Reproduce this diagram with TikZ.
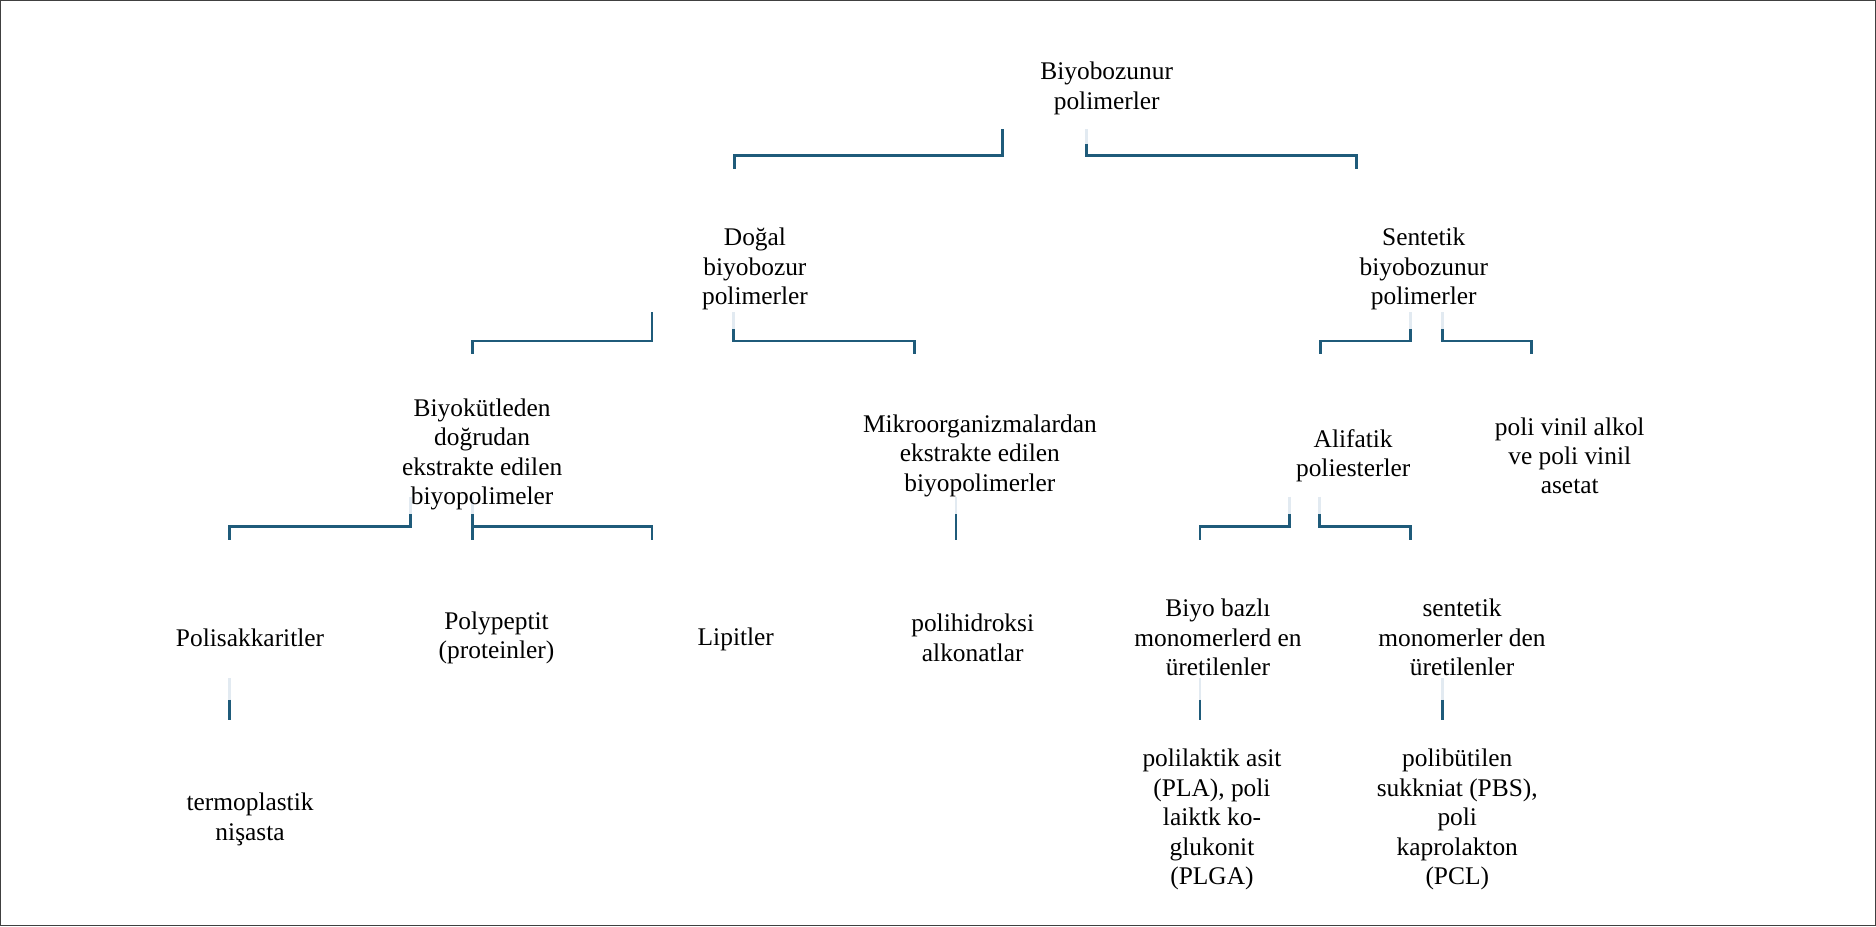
\documentclass[tikz,border=0pt]{standalone}
\usepackage{fontspec}
\setmainfont{Liberation Serif}
\usetikzlibrary{calc}
\definecolor{linkblue}{HTML}{1F5B7A}
\definecolor{linkfaint}{HTML}{E2EAF1}
\tikzset{
	lbl/.style={align=center, inner sep=0pt, font=\fontsize{15.1}{17.5}\selectfont},
	link/.style={line width=0.6mm, color=linkblue},
	faint/.style={line width=0.6mm, color=linkfaint}
}

\begin{document}
\begin{tikzpicture}[x=0.25mm, y=-0.25mm]
	\useasboundingbox (0,0) rectangle (1568,774);
	\draw[black!75, line width=0.3mm] (0.6,0.6) rectangle (1567.4,773.4);
	
	\coordinate (rootL) at (838,108); \coordinate (rootR) at (908,108);
	\coordinate (dogalL) at (545,261); \coordinate (dogalR) at (613,261);
	\coordinate (sentL) at (1179,261); \coordinate (sentR) at (1206,261);
	\coordinate (biyokL) at (343,415); \coordinate (biyokR) at (395,415);
	\coordinate (mikroB) at (799,415);
	\coordinate (alifL) at (1078,415); \coordinate (alifR) at (1103,415);
	\coordinate (polisB) at (192,567);
	\coordinate (biyobB) at (1003,567);
	\coordinate (sentmB) at (1206,567);
	
	\coordinate (dogalT) at (614,141); \coordinate (sentT) at (1134,141);
	\coordinate (biyokT) at (395,296); \coordinate (mikroT) at (764,296);
	\coordinate (alifT) at (1104,296); \coordinate (pvaT) at (1280,296);
	\coordinate (polisT) at (192,451); \coordinate (lipitT) at (545,451);
	\coordinate (polypT) at (395,451); \coordinate (polihT) at (799,451);
	\coordinate (biyobT) at (1003,451); \coordinate (sentmT) at (1179,451);
	\coordinate (termoT) at (192,602); \coordinate (plaT) at (1003,602);
	\coordinate (pbsT) at (1206,602);
	
	\draw[link] (rootL) -- ++(0,22) -| (dogalT);
	\draw[faint] (rootR) -- ++(0,12);
	\draw[link] (rootR) ++(0,12) -- ++(0,10) -| (sentT);
	
	\draw[link] (dogalL) -- ++(0,24) -| (biyokT);
	\draw[faint] (dogalR) -- ++(0,14);
	\draw[link] (dogalR) ++(0,14) -- ++(0,10) -| (mikroT);
	
	\draw[faint] (sentL) -- ++(0,14);
	\draw[link] (sentL) ++(0,14) -- ++(0,10) -| (alifT);
	\draw[faint] (sentR) -- ++(0,14);
	\draw[link] (sentR) ++(0,14) -- ++(0,10) -| (pvaT);
	
	\draw[faint] (biyokL) -- ++(0,15);
	\draw[link] (biyokL) ++(0,15) -- ++(0,10) -| (polisT);
	\draw[faint] (biyokR) -- ++(0,15);
	\draw[link] (biyokR) ++(0,15) -- (polypT);
	\draw[link] (biyokR) ++(0,25) -| (lipitT);
	
	\draw[faint] (mikroB) -- ++(0,15);
	\draw[link] (mikroB) ++(0,15) -- (polihT);
	
	\draw[faint] (alifL) -- ++(0,15);
	\draw[link] (alifL) ++(0,15) -- ++(0,10) -| (biyobT);
	\draw[faint] (alifR) -- ++(0,15);
	\draw[link] (alifR) ++(0,15) -- ++(0,10) -| (sentmT);
	
	\draw[faint] (polisB) -- ++(0,18);
	\draw[link] (polisB) ++(0,18) -- (termoT);
	\draw[faint] (biyobB) -- ++(0,18);
	\draw[link] (biyobB) ++(0,18) -- (plaT);
	\draw[faint] (sentmB) -- ++(0,18);
	\draw[link] (sentmB) ++(0,18) -- (pbsT);
	
	\node[lbl] (root) at (925,74) {Biyobozunur\\polimerler};
	\node[lbl] (dogal) at (631,225) {Doğal\\biyobozur\\polimerler};
	\node[lbl] (sent) at (1190,225) {Sentetik\\biyobozunur\\polimerler};
	\node[lbl] (biyok) at (403,380) {Biyokütleden\\doğrudan\\ekstrakte edilen\\biyopolimeler};
	\node[lbl] (mikro) at (819,381) {Mikroorganizmalardan\\ekstrakte edilen\\biyopolimerler};
	\node[lbl] (alif) at (1131,381) {Alifatik\\poliesterler};
	\node[lbl] (pva) at (1312,381) {poli vinil alkol\\ve poli vinil\\asetat};
	\node[lbl] (polis) at (209,533) {Polisakkaritler};
	\node[lbl] (polyp) at (415,533) {Polypeptit\\(proteinler)};
	\node[lbl] (lipit) at (615,534) {Lipitler};
	\node[lbl] (polih) at (813,533) {polihidroksi\\alkonatlar};
	\node[lbl] (biyob) at (1018,533) {Biyo bazlı\\monomerlerd en\\üretilenler};
	\node[lbl] (sentm) at (1222,533) {sentetik\\monomerler den\\üretilenler};
	\node[lbl] (termo) at (209,685) {termoplastik\\nişasta};
	\node[lbl] (pla) at (1013,685) {polilaktik asit\\(PLA), poli\\laiktk ko-\\glukonit\\(PLGA)};
	\node[lbl] (pbs) at (1218,685) {polibütilen\\sukkniat (PBS),\\poli\\kaprolakton\\(PCL)};
\end{tikzpicture}
\end{document}
